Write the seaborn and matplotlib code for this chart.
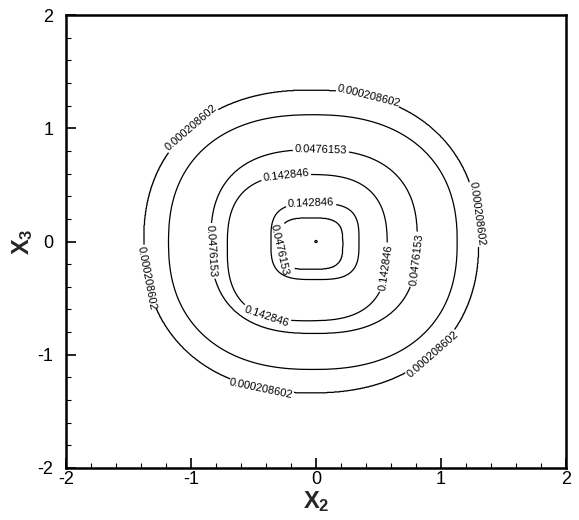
import numpy as np
import matplotlib
matplotlib.use("Agg")
import matplotlib.pyplot as plt
from matplotlib.ticker import MultipleLocator
import seaborn as sns

# contour levels of the plot (second one is drawn without a label)
levels = [0.000208602, 0.0238, 0.0476153, 0.142846]
level_text = {0.000208602: "0.000208602", 0.0238: "",
              0.0476153: "0.0476153", 0.142846: "0.142846"}

# closed rings, outermost first
ring_value = [0.000208602, 0.0238, 0.0476153, 0.142846, 0.142846, 0.0476153]
ring_left = [-1.376, -1.18, -0.84, -0.71, -0.36, -0.296]
ring_right = [1.30, 1.13, 0.81, 0.57, 0.344, 0.216]
ring_top = [1.336, 1.12, 0.81, 0.592, 0.335, 0.21]
ring_bottom = [-1.335, -1.13, -0.81, -0.70, -0.335, -0.247]
ring_square = [2.25, 2.35, 2.55, 2.8, 3.3, 3.3]

# field between/around the rings
peak_value = 0.2
center_value = 0.02
outer_value = 0.0

# where the labels sit on each level
label_pos = {
    0.000208602: [(0.42, 1.30), (-1.0, 1.0), (1.29, 0.25), (-1.336, -0.31),
                  (-0.44, -1.28), (0.944, -1.01)],
    0.0238: [],
    0.0476153: [(0.04, 0.81), (-0.856, -0.085), (0.80, -0.16), (-0.23, -0.07)],
    0.142846: [(-0.24, 0.577), (0.557, -0.23), (-0.36, -0.527), (-0.04, 0.35)],
}


def ring_norm(x, y, l, r, b, t, p):
    cx, cy = (l + r) / 2, (b + t) / 2
    a, h = (r - l) / 2, (t - b) / 2
    return (np.abs((x - cx) / a) ** p + np.abs((y - cy) / h) ** p) ** (1 / p) + 1e-9


# knots from inside to outside
kl, kr, kb, kt, kp, kv = [], [], [], [], [], []
def add_knot(l, r, b, t, p, v):
    kl.append(l); kr.append(r); kb.append(b); kt.append(t); kp.append(p); kv.append(v)

add_knot(-0.007, 0.007, -0.007, 0.007, 2.0, center_value)
add_knot(-0.03, 0.03, -0.03, 0.03, 2.0, 0.04)
add_knot(ring_left[5], ring_right[5], ring_bottom[5], ring_top[5], ring_square[5], ring_value[5])
add_knot(ring_left[4], ring_right[4], ring_bottom[4], ring_top[4], ring_square[4], ring_value[4])
add_knot((ring_left[3] + ring_left[4]) / 2, (ring_right[3] + ring_right[4]) / 2,
         (ring_bottom[3] + ring_bottom[4]) / 2, (ring_top[3] + ring_top[4]) / 2,
         (ring_square[3] + ring_square[4]) / 2, peak_value)
for i in [3, 2, 1, 0]:
    add_knot(ring_left[i], ring_right[i], ring_bottom[i], ring_top[i], ring_square[i], ring_value[i])
add_knot(ring_left[0] * 1.5, ring_right[0] * 1.5, ring_bottom[0] * 1.5, ring_top[0] * 1.5,
         ring_square[0], outer_value)

xs = np.linspace(-2, 2, 1001)
X, Y = np.meshgrid(xs, xs)
L = np.array([np.log(ring_norm(X, Y, kl[k], kr[k], kb[k], kt[k], kp[k])) for k in range(len(kv))])
K = len(kv)
c = (L > 0).sum(axis=0)
idx = np.clip(c, 1, K - 1)
lo = np.take_along_axis(L, (idx - 1)[None], 0)[0]
hi = np.take_along_axis(L, idx[None], 0)[0]
with np.errstate(divide="ignore", invalid="ignore"):
    t = (idx - 1) + lo / (lo - hi)
t = np.where(c == 0, 0, np.where(c == K, K - 1, t))
Z = np.interp(t, np.arange(K), kv)

sns.set_style("ticks")
plt.rcParams["font.family"] = ["Liberation Sans", "DejaVu Sans"]
plt.rcParams["mathtext.fontset"] = "custom"
plt.rcParams["mathtext.bf"] = "Liberation Sans:bold"
plt.rcParams["mathtext.rm"] = "Liberation Sans"
plt.rcParams["axes.unicode_minus"] = False

fig = plt.figure(figsize=(5.79, 5.20), dpi=100)
ax = fig.add_axes([0.114, 0.10, 0.8635, 0.871])

for lvl in levels:
    cs = ax.contour(X, Y, Z, levels=[lvl], colors="black", linewidths=0.9)
    if label_pos[lvl]:
        ax.clabel(cs, manual=label_pos[lvl], inline=True, fmt=level_text,
                  fontsize=8, inline_spacing=2)

ax.set_xlim(-2, 2)
ax.set_ylim(-2, 2)
ax.xaxis.set_major_locator(MultipleLocator(1))
ax.yaxis.set_major_locator(MultipleLocator(1))
ax.xaxis.set_minor_locator(MultipleLocator(0.2))
ax.yaxis.set_minor_locator(MultipleLocator(0.2))
ax.tick_params(which="major", direction="in", length=7, width=1.2, labelsize=13,
               color="black", labelcolor="black")
ax.tick_params(which="minor", direction="in", length=3.5, width=0.8, color="black")
ax.tick_params(axis="x", pad=2)
ax.tick_params(axis="y", pad=9)
for s in ax.spines.values():
    s.set_linewidth(1.8)
    s.set_color("black")

ax.set_xlabel(r"$\mathbf{X_2}$", fontsize=17, labelpad=1)
ax.set_ylabel(r"$\mathbf{X_3}$", fontsize=17, labelpad=2)

fig.savefig("out.png", dpi=100)
